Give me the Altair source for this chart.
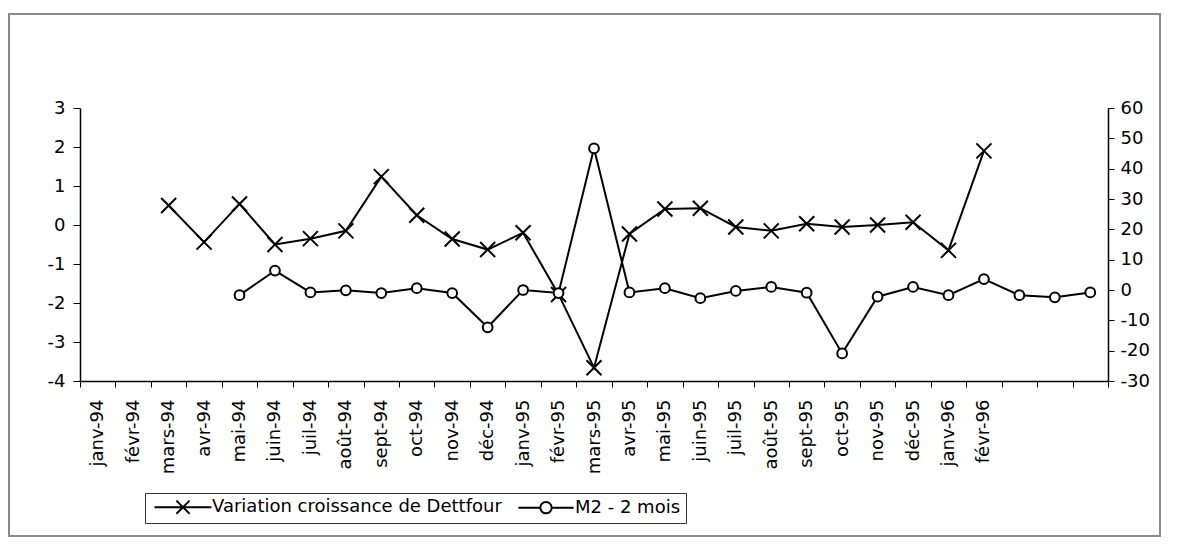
import altair as alt
import pandas as pd

months = ['janv-94', 'févr-94', 'mars-94', 'avr-94', 'mai-94', 'juin-94', 'juil-94',
          'août-94', 'sept-94', 'oct-94', 'nov-94', 'déc-94', 'janv-95', 'févr-95',
          'mars-95', 'avr-95', 'mai-95', 'juin-95', 'juil-95', 'août-95', 'sept-95',
          'oct-95', 'nov-95', 'déc-95', 'janv-96', 'févr-96', 'mars-96', 'avr-96', 'mai-96']
hidden_labels = ['mars-96', 'avr-96', 'mai-96']

variation = [None, None, 0.50, -0.44, 0.54, -0.50, -0.35, -0.15, 1.24, 0.25, -0.36, -0.63,
             -0.20, -1.78, -3.66, -0.23, 0.41, 0.43, -0.05, -0.15, 0.03, -0.05, 0.0, 0.07,
             -0.65, 1.9, None, None, None]
m2 = [None, None, None, None, -1.7, 6.4, -0.8, -0.1, -1.0, 0.6, -1.0, -12.3, 0.0, -1.0,
      46.7, -0.8, 0.6, -2.7, -0.3, 1.0, -0.9, -20.9, -2.2, 1.0, -1.7, 3.6, -1.7, -2.4, -0.8]

series = ['Variation croissance de Dettfour', 'M2 - 2 mois']
left_ticks = [-4, -3, -2, -1, 0, 1, 2, 3]
right_ticks = [-30, -20, -10, 0, 10, 20, 30, 40, 50, 60]

FONT = 'DejaVu Sans'
X_PATH = 'M-1,-1L1,1M-1,1L1,-1'
LEG_X = 'M-4.75,0H4.75M-1.1,-1.1L1.1,1.1M-1.1,1.1L1.1,-1.1'
LEG_O = 'M-4.6,0H-0.95M0.95,0H4.6M-0.95,0A0.95,0.95 0 1,1 0.95,0A0.95,0.95 0 1,1 -0.95,0Z'

df_var = pd.DataFrame({'mois': months, 'v': variation}).dropna()
df_m2 = pd.DataFrame({'mois': months, 'v': m2}).dropna()
df_leg = pd.DataFrame({'serie': series})
df_frame = pd.DataFrame({'k': [0]})

label_expr = "indexof(" + str(hidden_labels) + ", datum.value) >= 0 ? '' : datum.label"
num_expr = "datum.value + ''"

x_enc = alt.X('mois:N', sort=months,
              scale=alt.Scale(domain=months, paddingInner=0, paddingOuter=0),
              axis=alt.Axis(title=None, labelAngle=270, tickBand='extent', labelExpr=label_expr,
                            grid=False, tickSize=6, labelPadding=12, domainColor='black',
                            tickColor='black', domainWidth=1.5, labelFontSize=18,
                            labelFont=FONT, labelColor='black'))

y_left = alt.Y('v:Q', scale=alt.Scale(domain=[-4, 3], nice=False, zero=False),
               axis=alt.Axis(title=None, values=left_ticks, grid=False, tickSize=7,
                             labelPadding=8, domainColor='black', tickColor='black',
                             domainWidth=1.5, labelFontSize=18, labelFont=FONT,
                             labelColor='black', orient='left', labelExpr=num_expr))
y_right = alt.Y('v:Q', scale=alt.Scale(domain=[-30, 60], nice=False, zero=False),
                axis=alt.Axis(title=None, values=right_ticks, grid=False, tickSize=6,
                              labelPadding=6, domainColor='black', tickColor='black',
                              domainWidth=1.5, labelFontSize=18, labelFont=FONT,
                              labelColor='black', orient='right', labelExpr=num_expr))

var_line = alt.Chart(df_var).mark_line(color='black', strokeWidth=2).encode(x=x_enc, y=y_left)
var_pts = alt.Chart(df_var).mark_point(shape=X_PATH, size=225, color='black', strokeWidth=2,
                                       filled=False, opacity=1).encode(x=x_enc, y=y_left)

legend_layer = alt.Chart(df_leg).mark_point(color='black', filled=False, opacity=1).encode(
    shape=alt.Shape('serie:N', sort=series,
                    scale=alt.Scale(domain=series, range=[LEG_X, LEG_O]),
                    legend=alt.Legend(title=None, orient='none', legendX=65, legendY=385,
                                      direction='horizontal', labelFont=FONT,
                                      labelFontSize=18, labelColor='black', labelLimit=500,
                                      symbolSize=144, symbolStrokeWidth=2,
                                      symbolStrokeColor='black', symbolOffset=24,
                                      labelOffset=20, columnPadding=11, padding=5,
                                      strokeColor='#333', symbolType='circle'))
).transform_filter('false')

frame = alt.Chart(df_frame).mark_rect(fillOpacity=0, stroke='#8a8a8a', strokeWidth=2,
                                      clip=False).encode(
    x=alt.value(-71), x2=alt.value(1080), y=alt.value(-94), y2=alt.value(428))

m2_line = alt.Chart(df_m2).mark_line(color='black', strokeWidth=2).encode(x=x_enc, y=y_right)
m2_pts = alt.Chart(df_m2).mark_point(shape='circle', size=95, fill='white', stroke='black',
                                     strokeWidth=2, filled=True, opacity=1).encode(x=x_enc, y=y_right)

left = alt.layer(frame, var_line, var_pts, legend_layer)
right = alt.layer(m2_line, m2_pts)

chart = alt.layer(left, right).resolve_scale(y='independent').properties(
    width=1028, height=273,
    autosize=alt.AutoSizeParams(type='none'),
    padding={'left': 72, 'top': 100, 'right': 55, 'bottom': 157},
    background='white'
).configure_view(strokeWidth=0)

chart.save("out.html", embed_options={"renderer": "svg", "actions": False})
